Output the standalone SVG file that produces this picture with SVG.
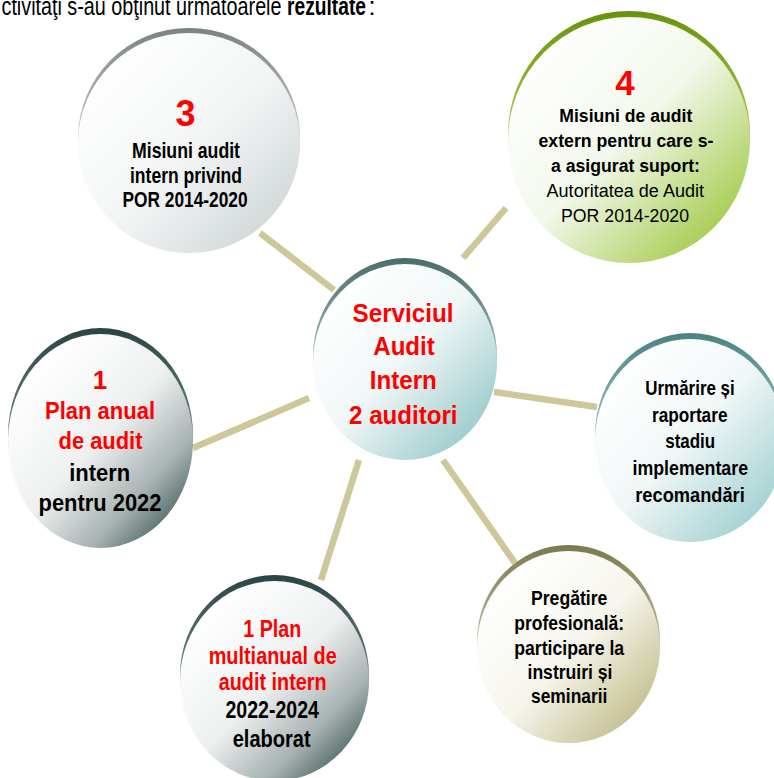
<svg xmlns="http://www.w3.org/2000/svg" width="774" height="778" viewBox="0 0 774 778">
<defs>
<style>
text{font-family:"Liberation Sans Narrow","Liberation Sans",Arial,sans-serif;text-anchor:middle;}
.hd{text-anchor:start;}
.b{font-weight:bold;}
.r{fill:#ff0000;}
.k{fill:#000000;}
.conn line{stroke:#cdc799;stroke-width:6.5;stroke-linecap:butt;}
</style>
<linearGradient id="rimA" x1="0" y1="0" x2="0" y2="0.5"><stop offset="0" stop-color="#7a8282"/><stop offset="1" stop-color="#c8cccc"/></linearGradient>
<linearGradient id="fillA" x1="0.1" y1="0.15" x2="0.9" y2="0.95"><stop offset="0" stop-color="#ffffff"/><stop offset="0.5" stop-color="#f3f5f5"/><stop offset="1" stop-color="#cdd5d5"/></linearGradient>
<linearGradient id="rimB" x1="0" y1="0" x2="0" y2="0.5"><stop offset="0" stop-color="#68920c"/><stop offset="1" stop-color="#a8c84a"/></linearGradient>
<linearGradient id="fillB" x1="0.1" y1="0.15" x2="0.9" y2="0.95"><stop offset="0" stop-color="#ffffff"/><stop offset="0.45" stop-color="#f3f8ec"/><stop offset="1" stop-color="#9cc63c"/></linearGradient>
<linearGradient id="rimC" x1="0" y1="0" x2="0" y2="0.5"><stop offset="0" stop-color="#4a6c6c"/><stop offset="1" stop-color="#98baba"/></linearGradient>
<linearGradient id="fillC" x1="0.1" y1="0.15" x2="0.9" y2="0.95"><stop offset="0" stop-color="#ffffff"/><stop offset="0.45" stop-color="#f1f7f7"/><stop offset="1" stop-color="#92c6c6"/></linearGradient>
<linearGradient id="rimD" x1="0" y1="0" x2="0" y2="0.5"><stop offset="0" stop-color="#2a4442"/><stop offset="1" stop-color="#6a8482"/></linearGradient>
<linearGradient id="fillD" x1="0.15" y1="0.15" x2="0.9" y2="0.95"><stop offset="0" stop-color="#ffffff"/><stop offset="0.45" stop-color="#eef0f0"/><stop offset="0.75" stop-color="#a7b2b1"/><stop offset="1" stop-color="#3a5654"/></linearGradient>
<linearGradient id="rimE" x1="0" y1="0" x2="0" y2="0.5"><stop offset="0" stop-color="#4a8282"/><stop offset="1" stop-color="#96c2c2"/></linearGradient>
<linearGradient id="fillE" x1="0.1" y1="0.15" x2="0.9" y2="0.95"><stop offset="0" stop-color="#ffffff"/><stop offset="0.45" stop-color="#f1f7f7"/><stop offset="1" stop-color="#9acccc"/></linearGradient>
<linearGradient id="rimG" x1="0" y1="0" x2="0" y2="0.5"><stop offset="0" stop-color="#7c7950"/><stop offset="1" stop-color="#bdb990"/></linearGradient>
<linearGradient id="fillG" x1="0.1" y1="0.15" x2="0.9" y2="0.95"><stop offset="0" stop-color="#ffffff"/><stop offset="0.5" stop-color="#f6f5ec"/><stop offset="1" stop-color="#bcb883"/></linearGradient>
</defs>
<rect x="0" y="0" width="774" height="778" fill="#ffffff"/>

<g id="header">
<text x="1.5" y="15" font-size="25.5" class="hd k" textLength="280" lengthAdjust="spacingAndGlyphs">ctivităţi s-au obţinut următoarele</text>
<text x="287" y="15" font-size="25.5" class="hd b k" textLength="79" lengthAdjust="spacingAndGlyphs">rezultate</text>
<text x="368.5" y="15" font-size="25.5" class="hd k">:</text>
</g>

<g id="connectors" class="conn">
<line x1="260" y1="233" x2="334" y2="290"/>
<line x1="506" y1="208" x2="463" y2="258"/>
<line x1="193" y1="448" x2="309" y2="398"/>
<line x1="494" y1="392" x2="597" y2="407"/>
<line x1="359" y1="460" x2="321" y2="580"/>
<line x1="443" y1="460" x2="515" y2="563"/>
</g>

<g id="node-misiuni-intern">
<ellipse cx="189" cy="138" rx="111" ry="110" fill="url(#rimA)"/>
<ellipse cx="189" cy="143" rx="111" ry="110" fill="url(#fillA)"/>
<text x="185.5" y="126" font-size="36" class="b r">3</text>
<text x="186" y="158.3" font-size="22" class="b k" textLength="108" lengthAdjust="spacingAndGlyphs">Misiuni audit</text>
<text x="186" y="182.7" font-size="22" class="b k" textLength="112" lengthAdjust="spacingAndGlyphs">intern privind</text>
<text x="185" y="206.7" font-size="22" class="b k" textLength="125" lengthAdjust="spacingAndGlyphs">POR 2014-2020</text>
</g>

<g id="node-misiuni-extern">
<ellipse cx="629" cy="134" rx="121" ry="123" fill="url(#rimB)"/>
<ellipse cx="629" cy="140" rx="121" ry="123" fill="url(#fillB)"/>
<text x="625" y="95" font-size="35" class="b r">4</text>
<text x="625.8" y="121.7" font-size="18" class="b k" textLength="133" lengthAdjust="spacingAndGlyphs">Misiuni de audit</text>
<text x="626" y="146.7" font-size="18" class="b k" textLength="175" lengthAdjust="spacingAndGlyphs">extern pentru care s-</text>
<text x="625.5" y="171.5" font-size="18" class="b k" textLength="149" lengthAdjust="spacingAndGlyphs">a asigurat suport:</text>
<text x="625.3" y="196.7" font-size="18" class="k" textLength="157.5" lengthAdjust="spacingAndGlyphs">Autoritatea de Audit</text>
<text x="625" y="221.7" font-size="18" class="k" textLength="128" lengthAdjust="spacingAndGlyphs">POR 2014-2020</text>
</g>

<g id="node-serviciul">
<ellipse cx="405" cy="356" rx="92" ry="98" fill="url(#rimC)"/>
<ellipse cx="405" cy="362" rx="92" ry="98" fill="url(#fillC)"/>
<text x="403" y="321.7" font-size="25.5" class="b r" textLength="101" lengthAdjust="spacingAndGlyphs">Serviciul</text>
<text x="404" y="355" font-size="25.5" class="b r" textLength="61.5" lengthAdjust="spacingAndGlyphs">Audit</text>
<text x="403.3" y="389.3" font-size="25.5" class="b r" textLength="67" lengthAdjust="spacingAndGlyphs">Intern</text>
<text x="403.3" y="424" font-size="25.5" class="b r" textLength="108.5" lengthAdjust="spacingAndGlyphs">2 auditori</text>
</g>

<g id="node-plan-anual">
<ellipse cx="100.5" cy="435" rx="92.5" ry="107" fill="url(#rimD)"/>
<ellipse cx="100.5" cy="441" rx="92.5" ry="107" fill="url(#fillD)"/>
<text x="100" y="389" font-size="26" class="b r">1</text>
<text x="100" y="419.3" font-size="24.5" class="b r" textLength="110" lengthAdjust="spacingAndGlyphs">Plan anual</text>
<text x="100.5" y="449.3" font-size="24.5" class="b r" textLength="84" lengthAdjust="spacingAndGlyphs">de audit</text>
<text x="99.7" y="480.7" font-size="24.5" class="b k" textLength="61" lengthAdjust="spacingAndGlyphs">intern</text>
<text x="100" y="510.7" font-size="24.5" class="b k" textLength="123" lengthAdjust="spacingAndGlyphs">pentru 2022</text>
</g>

<g id="node-urmarire">
<ellipse cx="690" cy="434.5" rx="95" ry="101.5" fill="url(#rimE)"/>
<ellipse cx="690" cy="440.5" rx="95" ry="101.5" fill="url(#fillE)"/>
<text x="690" y="395" font-size="21" class="b k" textLength="89.5" lengthAdjust="spacingAndGlyphs">Urmărire și</text>
<text x="689.7" y="421.7" font-size="21" class="b k" textLength="75.5" lengthAdjust="spacingAndGlyphs">raportare</text>
<text x="690.2" y="448.3" font-size="21" class="b k" textLength="50" lengthAdjust="spacingAndGlyphs">stadiu</text>
<text x="690.3" y="475" font-size="21" class="b k" textLength="115.5" lengthAdjust="spacingAndGlyphs">implementare</text>
<text x="690" y="501.7" font-size="21" class="b k" textLength="109.5" lengthAdjust="spacingAndGlyphs">recomandări</text>
</g>

<g id="node-plan-multianual">
<ellipse cx="274.5" cy="675" rx="94.5" ry="100" fill="url(#rimD)"/>
<ellipse cx="274.5" cy="681" rx="94.5" ry="100" fill="url(#fillD)"/>
<text x="272.3" y="636.7" font-size="24" class="b r" textLength="58" lengthAdjust="spacingAndGlyphs">1 Plan</text>
<text x="272.7" y="664" font-size="24" class="b r" textLength="128" lengthAdjust="spacingAndGlyphs">multianual de</text>
<text x="272.7" y="690" font-size="24" class="b r" textLength="108" lengthAdjust="spacingAndGlyphs">audit intern</text>
<text x="272.2" y="718.3" font-size="24" class="b k" textLength="93.5" lengthAdjust="spacingAndGlyphs">2022-2024</text>
<text x="271.7" y="746.7" font-size="24" class="b k" textLength="78" lengthAdjust="spacingAndGlyphs">elaborat</text>
</g>

<g id="node-pregatire">
<ellipse cx="568.5" cy="641" rx="91.5" ry="96" fill="url(#rimG)"/>
<ellipse cx="568.5" cy="647" rx="91.5" ry="96" fill="url(#fillG)"/>
<text x="569.2" y="605" font-size="20" class="b k" textLength="76.5" lengthAdjust="spacingAndGlyphs">Pregătire</text>
<text x="569.2" y="630" font-size="20" class="b k" textLength="110" lengthAdjust="spacingAndGlyphs">profesională:</text>
<text x="569.2" y="655" font-size="20" class="b k" textLength="110" lengthAdjust="spacingAndGlyphs">participare la</text>
<text x="570" y="679.3" font-size="20" class="b k" textLength="85" lengthAdjust="spacingAndGlyphs">instruiri și</text>
<text x="569.2" y="703.3" font-size="20" class="b k" textLength="76.5" lengthAdjust="spacingAndGlyphs">seminarii</text>
</g>
</svg>
